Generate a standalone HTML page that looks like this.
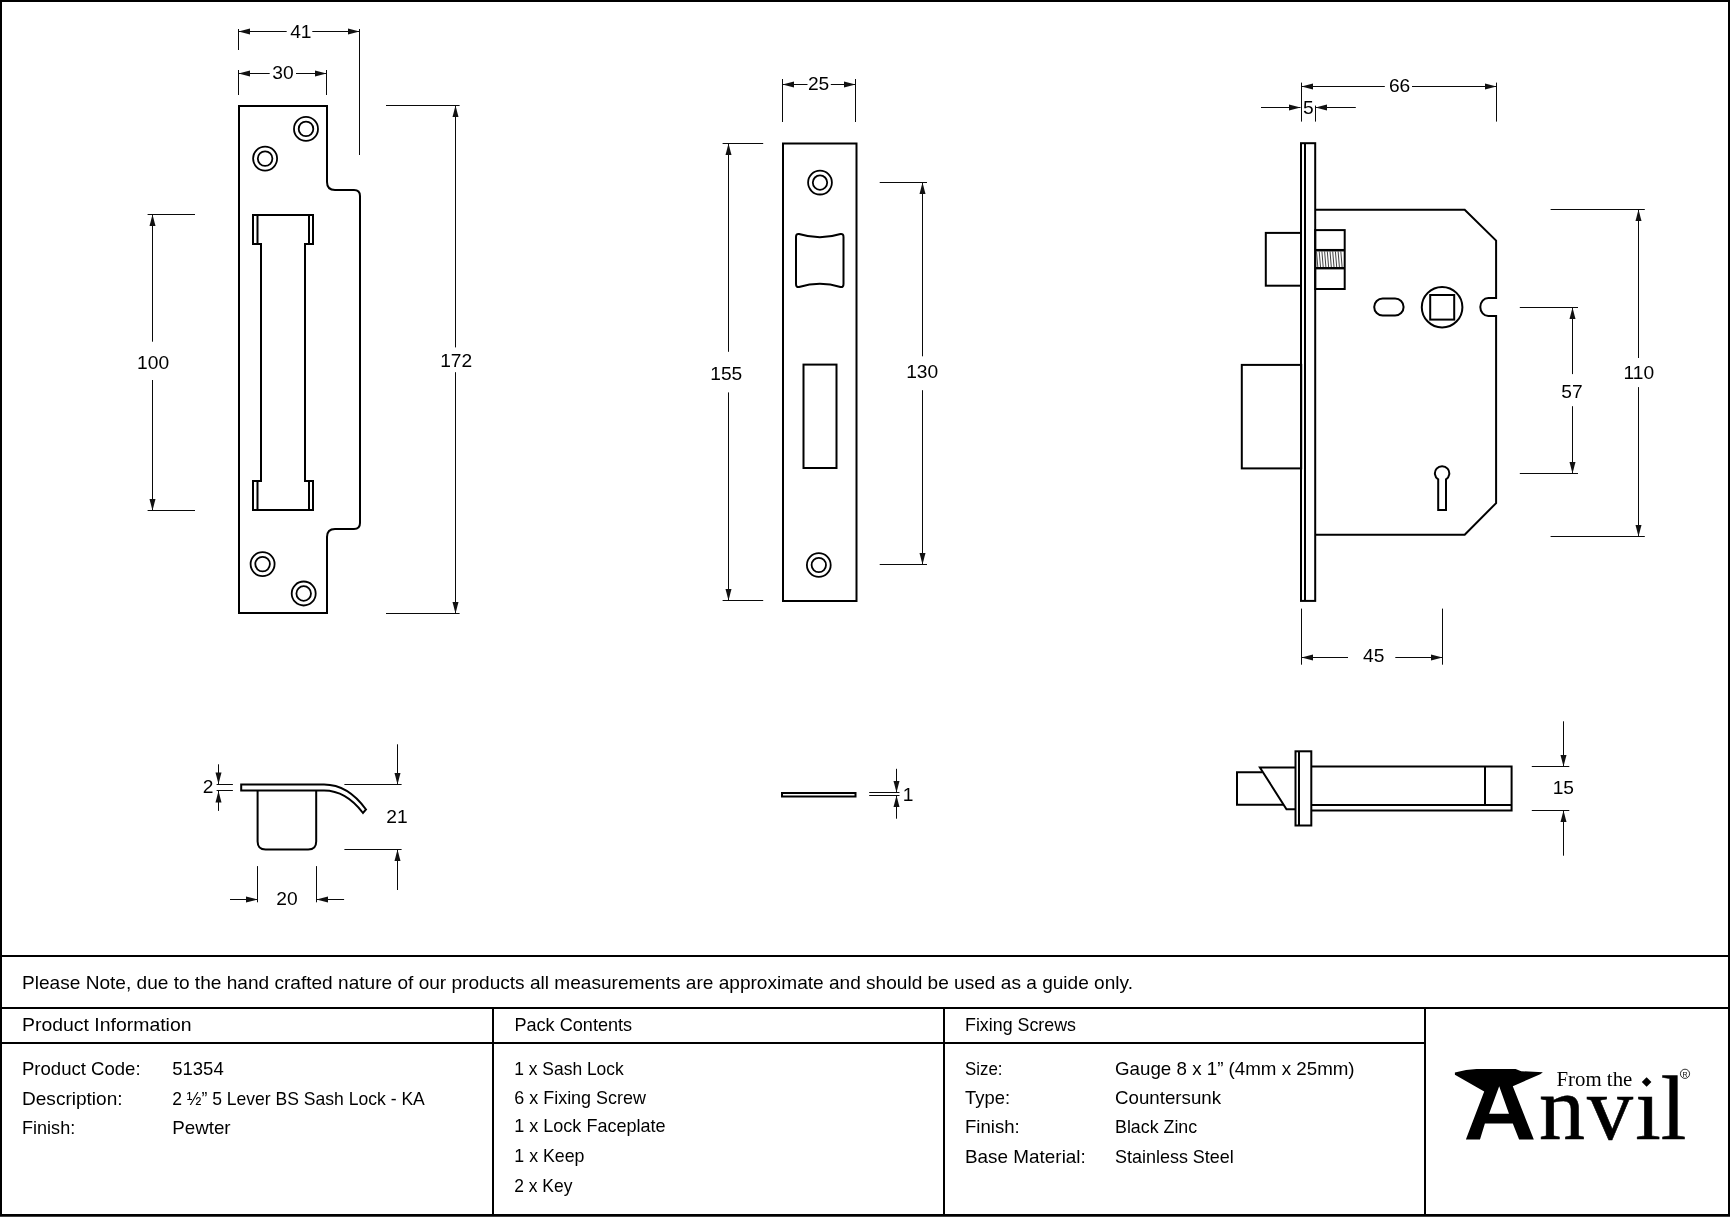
<!DOCTYPE html><html><head><meta charset="utf-8"><style>html,body{margin:0;padding:0;background:#fff;}svg{display:block;will-change:transform;}</style></head><body>
<svg width="1730" height="1217" viewBox="0 0 1730 1217" font-family="Liberation Sans">
<rect x="0" y="0" width="1730" height="1217" fill="#fff"/>
<path d="M239 106 H327 V182 Q327 190 335 190 H354 Q360 190 360 196 V523 Q360 529 354 529 H335 Q327 529 327 537 V613 H239 Z" fill="none" stroke="#000" stroke-width="2"/>
<path d="M253 215 H313 V244 H305 V481 H313 V510 H253 V481 H261 V244 H253 Z" fill="none" stroke="#000" stroke-width="2"/>
<line x1="257.5" y1="215" x2="257.5" y2="244" stroke="#000" stroke-width="2"/>
<line x1="309" y1="215" x2="309" y2="244" stroke="#000" stroke-width="2"/>
<line x1="257.5" y1="481" x2="257.5" y2="510" stroke="#000" stroke-width="2"/>
<line x1="309" y1="481" x2="309" y2="510" stroke="#000" stroke-width="2"/>
<circle cx="306.0" cy="128.9" r="12" fill="none" stroke="#000" stroke-width="1.8"/>
<circle cx="306.0" cy="128.9" r="7.3" fill="none" stroke="#000" stroke-width="1.8"/>
<circle cx="265.1" cy="158.6" r="12" fill="none" stroke="#000" stroke-width="1.8"/>
<circle cx="265.1" cy="158.6" r="7.3" fill="none" stroke="#000" stroke-width="1.8"/>
<circle cx="262.6" cy="564.1" r="12" fill="none" stroke="#000" stroke-width="1.8"/>
<circle cx="262.6" cy="564.1" r="7.3" fill="none" stroke="#000" stroke-width="1.8"/>
<circle cx="303.7" cy="593.5" r="12" fill="none" stroke="#000" stroke-width="1.8"/>
<circle cx="303.7" cy="593.5" r="7.3" fill="none" stroke="#000" stroke-width="1.8"/>
<line x1="238.5" y1="29" x2="238.5" y2="50" stroke="#0a0a0a" stroke-width="1"/>
<line x1="359.5" y1="29" x2="359.5" y2="155" stroke="#0a0a0a" stroke-width="1"/>
<line x1="238.5" y1="31.5" x2="286.7" y2="31.5" stroke="#0a0a0a" stroke-width="1"/>
<line x1="312.3" y1="31.5" x2="359.5" y2="31.5" stroke="#0a0a0a" stroke-width="1"/>
<polygon points="238.50,31.50 250.00,28.50 250.00,34.50" fill="#111"/>
<polygon points="359.50,31.50 348.00,28.50 348.00,34.50" fill="#111"/>
<text x="300.8" y="37.6" font-family="Liberation Sans" font-size="19.2" text-anchor="middle" fill="#000">41</text>
<line x1="238.5" y1="70" x2="238.5" y2="95" stroke="#0a0a0a" stroke-width="1"/>
<line x1="326.5" y1="70" x2="326.5" y2="95" stroke="#0a0a0a" stroke-width="1"/>
<line x1="238.5" y1="73.5" x2="269.7" y2="73.5" stroke="#0a0a0a" stroke-width="1"/>
<line x1="296" y1="73.5" x2="326.5" y2="73.5" stroke="#0a0a0a" stroke-width="1"/>
<polygon points="238.50,73.50 250.00,70.50 250.00,76.50" fill="#111"/>
<polygon points="326.50,73.50 315.00,70.50 315.00,76.50" fill="#111"/>
<text x="283" y="79.1" font-family="Liberation Sans" font-size="19.2" text-anchor="middle" fill="#000">30</text>
<line x1="147.6" y1="214.5" x2="195" y2="214.5" stroke="#0a0a0a" stroke-width="1"/>
<line x1="147.6" y1="510.5" x2="195" y2="510.5" stroke="#0a0a0a" stroke-width="1"/>
<line x1="152.5" y1="214.5" x2="152.5" y2="341.7" stroke="#0a0a0a" stroke-width="1"/>
<line x1="152.5" y1="380" x2="152.5" y2="510.5" stroke="#0a0a0a" stroke-width="1"/>
<polygon points="152.50,214.50 149.50,226.00 155.50,226.00" fill="#111"/>
<polygon points="152.50,510.50 149.50,499.00 155.50,499.00" fill="#111"/>
<text x="153.1" y="369.1" font-family="Liberation Sans" font-size="19.2" text-anchor="middle" fill="#000">100</text>
<line x1="386" y1="105.5" x2="459.6" y2="105.5" stroke="#0a0a0a" stroke-width="1"/>
<line x1="386" y1="613.5" x2="459.6" y2="613.5" stroke="#0a0a0a" stroke-width="1"/>
<line x1="455.5" y1="105.5" x2="455.5" y2="347.4" stroke="#0a0a0a" stroke-width="1"/>
<line x1="455.5" y1="372.2" x2="455.5" y2="613.5" stroke="#0a0a0a" stroke-width="1"/>
<polygon points="455.50,105.50 452.50,117.00 458.50,117.00" fill="#111"/>
<polygon points="455.50,613.50 452.50,602.00 458.50,602.00" fill="#111"/>
<text x="456.2" y="367.1" font-family="Liberation Sans" font-size="19.2" text-anchor="middle" fill="#000">172</text>
<rect x="783" y="143.5" width="73.5" height="457.5" fill="none" stroke="#000" stroke-width="2"/>
<circle cx="820.0" cy="182.6" r="11.9" fill="none" stroke="#000" stroke-width="1.8"/>
<circle cx="820.0" cy="182.6" r="7.2" fill="none" stroke="#000" stroke-width="1.8"/>
<circle cx="818.8" cy="565" r="11.9" fill="none" stroke="#000" stroke-width="1.8"/>
<circle cx="818.8" cy="565" r="7.2" fill="none" stroke="#000" stroke-width="1.8"/>
<path d="M799 234 Q820 240.5 840.5 234 Q843.5 233.5 843.5 237 V284 Q843.5 287.5 840.5 287 Q820 280.5 799 287 Q796 287.5 796 284 V237 Q796 233.5 799 234 Z" fill="none" stroke="#000" stroke-width="2"/>
<rect x="803.5" y="364.6" width="33" height="103.4" fill="none" stroke="#000" stroke-width="2"/>
<line x1="782.5" y1="79" x2="782.5" y2="122" stroke="#0a0a0a" stroke-width="1"/>
<line x1="855.5" y1="79" x2="855.5" y2="122" stroke="#0a0a0a" stroke-width="1"/>
<line x1="782.5" y1="84.5" x2="807.5" y2="84.5" stroke="#0a0a0a" stroke-width="1"/>
<line x1="830.8" y1="84.5" x2="855.5" y2="84.5" stroke="#0a0a0a" stroke-width="1"/>
<polygon points="782.50,84.50 794.00,81.50 794.00,87.50" fill="#111"/>
<polygon points="855.50,84.50 844.00,81.50 844.00,87.50" fill="#111"/>
<text x="818.6" y="89.8" font-family="Liberation Sans" font-size="19.2" text-anchor="middle" fill="#000">25</text>
<line x1="722.6" y1="143.5" x2="763.2" y2="143.5" stroke="#0a0a0a" stroke-width="1"/>
<line x1="722.6" y1="600.5" x2="763.2" y2="600.5" stroke="#0a0a0a" stroke-width="1"/>
<line x1="728.5" y1="143.5" x2="728.5" y2="351.8" stroke="#0a0a0a" stroke-width="1"/>
<line x1="728.5" y1="392.4" x2="728.5" y2="600.5" stroke="#0a0a0a" stroke-width="1"/>
<polygon points="728.50,143.50 725.50,155.00 731.50,155.00" fill="#111"/>
<polygon points="728.50,600.50 725.50,589.00 731.50,589.00" fill="#111"/>
<text x="726.3" y="380.1" font-family="Liberation Sans" font-size="19.2" text-anchor="middle" fill="#000">155</text>
<line x1="879.7" y1="182.5" x2="927" y2="182.5" stroke="#0a0a0a" stroke-width="1"/>
<line x1="879.7" y1="564.5" x2="927" y2="564.5" stroke="#0a0a0a" stroke-width="1"/>
<line x1="922.5" y1="182.5" x2="922.5" y2="356.3" stroke="#0a0a0a" stroke-width="1"/>
<line x1="922.5" y1="390.2" x2="922.5" y2="564.5" stroke="#0a0a0a" stroke-width="1"/>
<polygon points="922.50,182.50 919.50,194.00 925.50,194.00" fill="#111"/>
<polygon points="922.50,564.50 919.50,553.00 925.50,553.00" fill="#111"/>
<text x="922.2" y="377.90000000000003" font-family="Liberation Sans" font-size="19.2" text-anchor="middle" fill="#000">130</text>
<rect x="1301" y="143.2" width="14.2" height="457.7" fill="none" stroke="#000" stroke-width="2"/>
<line x1="1305" y1="143.2" x2="1305" y2="600.9" stroke="#000" stroke-width="2"/>
<path d="M1315.2 209.7 H1464.7 L1496.1 240.6 V298 H1488.3 A8 9 0 0 0 1488.3 316 H1496.1 V503.1 L1464.7 534.7 H1315.2" fill="none" stroke="#000" stroke-width="2"/>
<rect x="1265.8" y="232.9" width="35.2" height="52.8" fill="none" stroke="#000" stroke-width="2"/>
<rect x="1315.2" y="230.1" width="29.5" height="58.9" fill="none" stroke="#000" stroke-width="2"/>
<line x1="1315.2" y1="250.2" x2="1344.7" y2="250.2" stroke="#000" stroke-width="2.5"/>
<line x1="1315.2" y1="268.2" x2="1344.7" y2="268.2" stroke="#000" stroke-width="2.4"/>
<path d="M1316.50 251.3 L1317.80 267 M1319.20 251.3 L1320.50 267 M1321.90 251.3 L1323.20 267 M1324.60 251.3 L1325.90 267 M1327.30 251.3 L1328.60 267 M1330.00 251.3 L1331.30 267 M1332.70 251.3 L1334.00 267 M1335.40 251.3 L1336.70 267 M1338.10 251.3 L1339.40 267 M1340.80 251.3 L1342.10 267 " fill="none" stroke="#444" stroke-width="1"/>
<rect x="1374.2" y="298.5" width="29.4" height="17" rx="8.5" ry="8.5" fill="none" stroke="#000" stroke-width="2"/>
<circle cx="1442.1" cy="307.2" r="20.3" fill="none" stroke="#000" stroke-width="2"/>
<rect x="1430.2" y="295" width="24" height="24.6" fill="none" stroke="#000" stroke-width="2"/>
<rect x="1241.8" y="364.9" width="59.4" height="103.5" fill="none" stroke="#000" stroke-width="2"/>
<path d="M1438.2 509.9 V479.4 A7.2 7.2 0 1 1 1446 479.4 V509.9 Z" fill="none" stroke="#000" stroke-width="2"/>
<line x1="1301.5" y1="82.6" x2="1301.5" y2="121.6" stroke="#0a0a0a" stroke-width="1"/>
<line x1="1496.5" y1="82.6" x2="1496.5" y2="121.6" stroke="#0a0a0a" stroke-width="1"/>
<line x1="1301.5" y1="86.5" x2="1384.8" y2="86.5" stroke="#0a0a0a" stroke-width="1"/>
<line x1="1412" y1="86.5" x2="1496.5" y2="86.5" stroke="#0a0a0a" stroke-width="1"/>
<polygon points="1301.50,86.50 1313.00,83.50 1313.00,89.50" fill="#111"/>
<polygon points="1496.50,86.50 1485.00,83.50 1485.00,89.50" fill="#111"/>
<text x="1399.6" y="92.39999999999999" font-family="Liberation Sans" font-size="19.2" text-anchor="middle" fill="#000">66</text>
<line x1="1315.5" y1="105.6" x2="1315.5" y2="121.6" stroke="#0a0a0a" stroke-width="1"/>
<line x1="1261" y1="107.5" x2="1300.5" y2="107.5" stroke="#0a0a0a" stroke-width="1"/>
<polygon points="1300.50,107.50 1289.00,104.50 1289.00,110.50" fill="#111"/>
<line x1="1315.5" y1="107.5" x2="1355.8" y2="107.5" stroke="#0a0a0a" stroke-width="1"/>
<polygon points="1315.50,107.50 1327.00,104.50 1327.00,110.50" fill="#111"/>
<text x="1308.4" y="114.19999999999999" font-family="Liberation Sans" font-size="19.2" text-anchor="middle" fill="#000">5</text>
<line x1="1550.6" y1="209.5" x2="1644.8" y2="209.5" stroke="#0a0a0a" stroke-width="1"/>
<line x1="1550.6" y1="536.5" x2="1644.8" y2="536.5" stroke="#0a0a0a" stroke-width="1"/>
<line x1="1638.5" y1="209.5" x2="1638.5" y2="358" stroke="#0a0a0a" stroke-width="1"/>
<line x1="1638.5" y1="387.1" x2="1638.5" y2="536.5" stroke="#0a0a0a" stroke-width="1"/>
<polygon points="1638.50,209.50 1635.50,221.00 1641.50,221.00" fill="#111"/>
<polygon points="1638.50,536.50 1635.50,525.00 1641.50,525.00" fill="#111"/>
<text x="1638.8" y="378.6" font-family="Liberation Sans" font-size="19.2" text-anchor="middle" fill="#000">110</text>
<line x1="1519.8" y1="307.5" x2="1578" y2="307.5" stroke="#0a0a0a" stroke-width="1"/>
<line x1="1519.8" y1="473.5" x2="1578" y2="473.5" stroke="#0a0a0a" stroke-width="1"/>
<line x1="1572.5" y1="307.5" x2="1572.5" y2="374.1" stroke="#0a0a0a" stroke-width="1"/>
<line x1="1572.5" y1="406.2" x2="1572.5" y2="473.5" stroke="#0a0a0a" stroke-width="1"/>
<polygon points="1572.50,307.50 1569.50,319.00 1575.50,319.00" fill="#111"/>
<polygon points="1572.50,473.50 1569.50,462.00 1575.50,462.00" fill="#111"/>
<text x="1571.9" y="397.6" font-family="Liberation Sans" font-size="19.2" text-anchor="middle" fill="#000">57</text>
<line x1="1301.5" y1="608.6" x2="1301.5" y2="664.7" stroke="#0a0a0a" stroke-width="1"/>
<line x1="1442.5" y1="608.6" x2="1442.5" y2="664.7" stroke="#0a0a0a" stroke-width="1"/>
<line x1="1301.5" y1="657.5" x2="1348" y2="657.5" stroke="#0a0a0a" stroke-width="1"/>
<line x1="1395.3" y1="657.5" x2="1442.5" y2="657.5" stroke="#0a0a0a" stroke-width="1"/>
<polygon points="1301.50,657.50 1313.00,654.50 1313.00,660.50" fill="#111"/>
<polygon points="1442.50,657.50 1431.00,654.50 1431.00,660.50" fill="#111"/>
<text x="1373.7" y="661.6" font-family="Liberation Sans" font-size="19.2" text-anchor="middle" fill="#000">45</text>
<path d="M241.2 784.5 H324 Q348 784.5 366 809.5 L363 813 Q346 790.5 324 790.5 H241.2 Z" fill="none" stroke="#000" stroke-width="2"/>
<path d="M257.6 790.5 V841.5 Q257.6 849.5 265.6 849.5 H308.2 Q316.2 849.5 316.2 841.5 V790.5" fill="none" stroke="#000" stroke-width="2"/>
<line x1="216.6" y1="784.5" x2="232.9" y2="784.5" stroke="#0a0a0a" stroke-width="1"/>
<line x1="216.6" y1="790.5" x2="232.9" y2="790.5" stroke="#0a0a0a" stroke-width="1"/>
<line x1="218.5" y1="764.3" x2="218.5" y2="784" stroke="#0a0a0a" stroke-width="1"/>
<polygon points="218.50,784.00 215.50,772.50 221.50,772.50" fill="#111"/>
<line x1="218.5" y1="791" x2="218.5" y2="810.9" stroke="#0a0a0a" stroke-width="1"/>
<polygon points="218.50,791.00 215.50,802.50 221.50,802.50" fill="#111"/>
<text x="208" y="793.2" font-family="Liberation Sans" font-size="19.2" text-anchor="middle" fill="#000">2</text>
<line x1="344.4" y1="784.5" x2="401.6" y2="784.5" stroke="#0a0a0a" stroke-width="1"/>
<line x1="344.4" y1="849.5" x2="401.6" y2="849.5" stroke="#0a0a0a" stroke-width="1"/>
<line x1="397.5" y1="744.3" x2="397.5" y2="784.5" stroke="#0a0a0a" stroke-width="1"/>
<polygon points="397.50,784.50 394.50,773.00 400.50,773.00" fill="#111"/>
<line x1="397.5" y1="849.5" x2="397.5" y2="890" stroke="#0a0a0a" stroke-width="1"/>
<polygon points="397.50,849.50 394.50,861.00 400.50,861.00" fill="#111"/>
<text x="397" y="823.1" font-family="Liberation Sans" font-size="19.2" text-anchor="middle" fill="#000">21</text>
<line x1="257.5" y1="866.1" x2="257.5" y2="902.3" stroke="#0a0a0a" stroke-width="1"/>
<line x1="316.5" y1="866.1" x2="316.5" y2="902.3" stroke="#0a0a0a" stroke-width="1"/>
<line x1="230" y1="899.5" x2="257.5" y2="899.5" stroke="#0a0a0a" stroke-width="1"/>
<polygon points="257.50,899.50 246.00,896.50 246.00,902.50" fill="#111"/>
<line x1="316.5" y1="899.5" x2="344.1" y2="899.5" stroke="#0a0a0a" stroke-width="1"/>
<polygon points="316.50,899.50 328.00,896.50 328.00,902.50" fill="#111"/>
<text x="287" y="904.6" font-family="Liberation Sans" font-size="19.2" text-anchor="middle" fill="#000">20</text>
<rect x="782" y="793" width="73.5" height="3.5" fill="none" stroke="#000" stroke-width="2"/>
<line x1="869.2" y1="792.5" x2="899.5" y2="792.5" stroke="#0a0a0a" stroke-width="1"/>
<line x1="869.2" y1="795.5" x2="899.5" y2="795.5" stroke="#0a0a0a" stroke-width="1"/>
<line x1="896.5" y1="768.8" x2="896.5" y2="792.5" stroke="#0a0a0a" stroke-width="1"/>
<polygon points="896.50,792.50 893.50,781.00 899.50,781.00" fill="#111"/>
<line x1="896.5" y1="795.5" x2="896.5" y2="818.7" stroke="#0a0a0a" stroke-width="1"/>
<polygon points="896.50,795.50 893.50,807.00 899.50,807.00" fill="#111"/>
<text x="908" y="800.6" font-family="Liberation Sans" font-size="19.2" text-anchor="middle" fill="#000">1</text>
<rect x="1295.5" y="751.3" width="15.8" height="74.2" fill="none" stroke="#000" stroke-width="2"/>
<line x1="1299" y1="751.3" x2="1299" y2="825.5" stroke="#000" stroke-width="2"/>
<path d="M1262.3 772.2 H1237 V804.8 H1283.6" fill="none" stroke="#000" stroke-width="2"/>
<path d="M1295.5 767.5 H1259.9 L1286.5 809.2 H1295.5" fill="none" stroke="#000" stroke-width="2"/>
<path d="M1311.3 766.6 H1511.6 V810.5 H1311.3 M1311.3 804.9 H1511.6 M1485 766.6 V804.9" fill="none" stroke="#000" stroke-width="2"/>
<line x1="1531.8" y1="766.5" x2="1569.3" y2="766.5" stroke="#0a0a0a" stroke-width="1"/>
<line x1="1531.8" y1="810.5" x2="1569.3" y2="810.5" stroke="#0a0a0a" stroke-width="1"/>
<line x1="1563.5" y1="721.3" x2="1563.5" y2="766.5" stroke="#0a0a0a" stroke-width="1"/>
<polygon points="1563.50,766.50 1560.50,755.00 1566.50,755.00" fill="#111"/>
<line x1="1563.5" y1="810.5" x2="1563.5" y2="855.7" stroke="#0a0a0a" stroke-width="1"/>
<polygon points="1563.50,810.50 1560.50,822.00 1566.50,822.00" fill="#111"/>
<text x="1563.3" y="793.6" font-family="Liberation Sans" font-size="19.2" text-anchor="middle" fill="#000">15</text>
<g stroke="#000" stroke-width="2" fill="none">
<line x1="0" y1="956" x2="1730" y2="956"/>
<line x1="0" y1="1008" x2="1730" y2="1008"/>
<line x1="0" y1="1043" x2="1425" y2="1043"/>
<line x1="493" y1="1008" x2="493" y2="1216"/>
<line x1="944" y1="1008" x2="944" y2="1216"/>
<line x1="1425" y1="1008" x2="1425" y2="1216"/>
</g>
<text x="22" y="989" font-family="Liberation Sans" font-size="19" text-anchor="start" fill="#000" textLength="1111" lengthAdjust="spacingAndGlyphs">Please Note, due to the hand crafted nature of our products all measurements are approximate and should be used as a guide only.</text>
<text x="22" y="1030.5" font-family="Liberation Sans" font-size="19" text-anchor="start" fill="#000" textLength="169.5" lengthAdjust="spacingAndGlyphs">Product Information</text>
<text x="514.4" y="1030.5" font-family="Liberation Sans" font-size="19" text-anchor="start" fill="#000" textLength="117.8" lengthAdjust="spacingAndGlyphs">Pack Contents</text>
<text x="965" y="1030.5" font-family="Liberation Sans" font-size="19" text-anchor="start" fill="#000" textLength="111" lengthAdjust="spacingAndGlyphs">Fixing Screws</text>
<text x="22" y="1075" font-family="Liberation Sans" font-size="19" text-anchor="start" fill="#000" textLength="118.6" lengthAdjust="spacingAndGlyphs">Product Code:</text>
<text x="172.2" y="1075" font-family="Liberation Sans" font-size="19" text-anchor="start" fill="#000" textLength="51.5" lengthAdjust="spacingAndGlyphs">51354</text>
<text x="22" y="1104.5" font-family="Liberation Sans" font-size="19" text-anchor="start" fill="#000" textLength="100.6" lengthAdjust="spacingAndGlyphs">Description:</text>
<text x="172.2" y="1104.5" font-family="Liberation Sans" font-size="19" text-anchor="start" fill="#000" textLength="252.6" lengthAdjust="spacingAndGlyphs">2 ½” 5 Lever BS Sash Lock - KA</text>
<text x="22" y="1134" font-family="Liberation Sans" font-size="19" text-anchor="start" fill="#000" textLength="53.2" lengthAdjust="spacingAndGlyphs">Finish:</text>
<text x="172.2" y="1134" font-family="Liberation Sans" font-size="19" text-anchor="start" fill="#000" textLength="58.4" lengthAdjust="spacingAndGlyphs">Pewter</text>
<text x="514.3" y="1074.7" font-family="Liberation Sans" font-size="19" text-anchor="start" fill="#000" textLength="109.4" lengthAdjust="spacingAndGlyphs">1 x Sash Lock</text>
<text x="514.3" y="1103.5" font-family="Liberation Sans" font-size="19" text-anchor="start" fill="#000" textLength="131.6" lengthAdjust="spacingAndGlyphs">6 x Fixing Screw</text>
<text x="514.3" y="1132.3" font-family="Liberation Sans" font-size="19" text-anchor="start" fill="#000" textLength="151.2" lengthAdjust="spacingAndGlyphs">1 x Lock Faceplate</text>
<text x="514.3" y="1162.2" font-family="Liberation Sans" font-size="19" text-anchor="start" fill="#000" textLength="70.2" lengthAdjust="spacingAndGlyphs">1 x Keep</text>
<text x="514.3" y="1191.7" font-family="Liberation Sans" font-size="19" text-anchor="start" fill="#000" textLength="58.1" lengthAdjust="spacingAndGlyphs">2 x Key</text>
<text x="965" y="1075" font-family="Liberation Sans" font-size="19" text-anchor="start" fill="#000" textLength="37.5" lengthAdjust="spacingAndGlyphs">Size:</text>
<text x="1115" y="1075" font-family="Liberation Sans" font-size="19" text-anchor="start" fill="#000" textLength="239.6" lengthAdjust="spacingAndGlyphs">Gauge 8 x 1” (4mm x 25mm)</text>
<text x="965" y="1103.7" font-family="Liberation Sans" font-size="19" text-anchor="start" fill="#000" textLength="45" lengthAdjust="spacingAndGlyphs">Type:</text>
<text x="1115" y="1103.7" font-family="Liberation Sans" font-size="19" text-anchor="start" fill="#000" textLength="106.1" lengthAdjust="spacingAndGlyphs">Countersunk</text>
<text x="965" y="1133.2" font-family="Liberation Sans" font-size="19" text-anchor="start" fill="#000" textLength="54.7" lengthAdjust="spacingAndGlyphs">Finish:</text>
<text x="1115" y="1133.2" font-family="Liberation Sans" font-size="19" text-anchor="start" fill="#000" textLength="82.2" lengthAdjust="spacingAndGlyphs">Black Zinc</text>
<text x="965" y="1162.9" font-family="Liberation Sans" font-size="19" text-anchor="start" fill="#000" textLength="120.8" lengthAdjust="spacingAndGlyphs">Base Material:</text>
<text x="1115" y="1162.9" font-family="Liberation Sans" font-size="19" text-anchor="start" fill="#000" textLength="118.8" lengthAdjust="spacingAndGlyphs">Stainless Steel</text>
<path d="M1454.9 1072.6 L1466.1 1070.1 L1476.5 1068.9 L1515.6 1068.9 L1521.2 1071.2 L1542.9 1072.2 L1540.2 1074.2 L1512.8 1086.2 L1533.8 1139.6 L1519.1 1139.6 L1512.8 1123.5 L1484.9 1123.5 L1480 1139.6 L1465.9 1139.6 L1484.2 1091.4 L1454.9 1074.7 Z M1499.2 1086.2 L1489.1 1113.8 L1509 1113.8 Z" fill="#000" fill-rule="evenodd"/>
<text x="1556.5" y="1085.8" font-family="Liberation Serif" font-size="20.9" text-anchor="start" fill="#000" textLength="75.8" lengthAdjust="spacingAndGlyphs">From the</text>
<path d="M1646.6 1077.2 L1651.4 1082 L1646.6 1086.7 L1641.8 1082 Z" fill="#000"/>
<text x="1538.9" y="1138.8" font-family="Liberation Serif" font-size="92" text-anchor="start" fill="#000" stroke="#000" stroke-width="0.6">n</text>
<text x="1586.9" y="1138.8" font-family="Liberation Serif" font-size="92" text-anchor="start" fill="#000" stroke="#000" stroke-width="0.6">v</text>
<text x="1635.2" y="1138.8" font-family="Liberation Serif" font-size="92" text-anchor="start" fill="#000" stroke="#000" stroke-width="0.6">ı</text>
<text x="1660.8" y="1138.8" font-family="Liberation Serif" font-size="92" text-anchor="start" fill="#000" stroke="#000" stroke-width="0.6">l</text>
<circle cx="1685" cy="1073.8" r="4.6" fill="none" stroke="#000" stroke-width="0.8"/>
<text x="1685" y="1076.5" font-family="Liberation Sans" font-size="7" text-anchor="middle" fill="#000">R</text>
<rect x="1" y="1" width="1728" height="1214" fill="none" stroke="#000" stroke-width="2"/>
<rect x="0" y="1216" width="1730" height="1" fill="#404040"/>
</svg></body></html>
